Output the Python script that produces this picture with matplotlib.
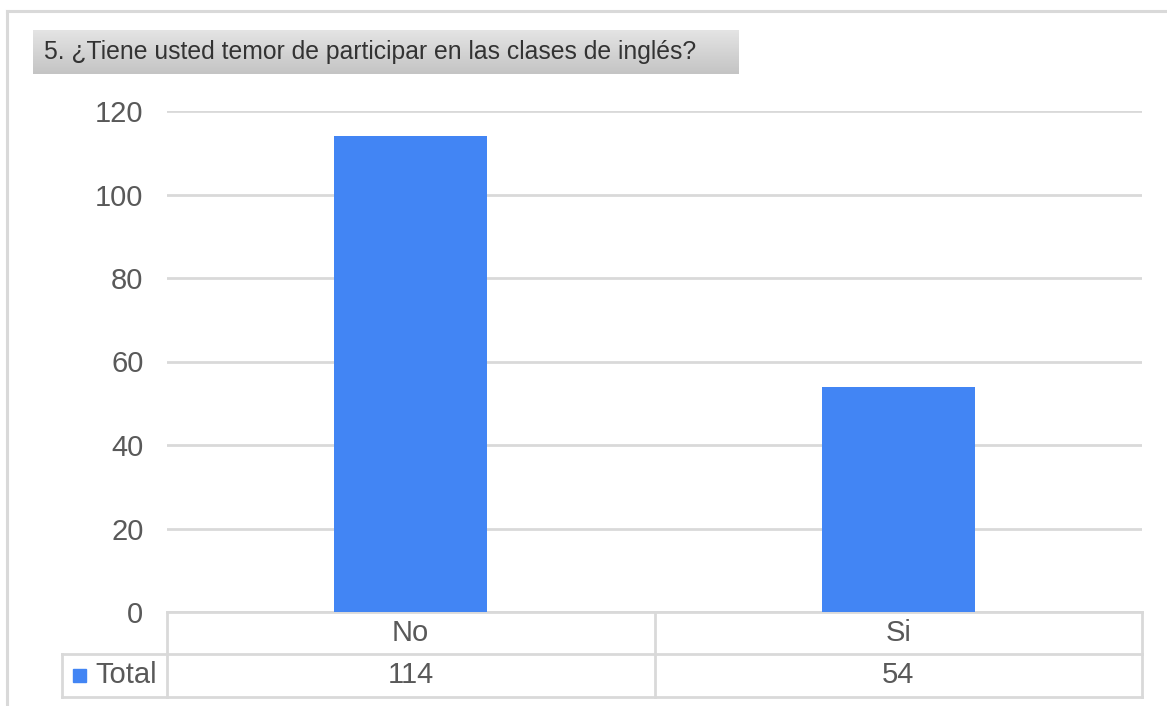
import matplotlib.pyplot as plt
import matplotlib.transforms as mtransforms
import numpy as np

# data
categories = ["No", "Si"]
totals = [114, 54]
series_name = "Total"
title = "5. ¿Tiene usted temor de participar en las clases de inglés?"
y_ticks = [0, 20, 40, 60, 80, 100, 120]

W, H = 1167, 706
bar_color = "#4285F4"
line_color = "#d9d9d9"
text_color = "#595959"

plt.rcParams['font.family'] = ['Liberation Sans', 'DejaVu Sans']


def fx(x):
    return x / W


def fy(y):
    return 1 - y / H


fig = plt.figure(figsize=(W / 100, H / 100), dpi=100)

# outer frame (top and left edge only visible)
fig.add_artist(plt.Line2D([fx(7), 1], [fy(10.5), fy(10.5)], color=line_color, lw=2.2))
fig.add_artist(plt.Line2D([fx(7), fx(7)], [fy(10.5), 0], color=line_color, lw=2.2))

# title box with a soft grey gradient
tax = fig.add_axes([fx(33), fy(74), fx(739) - fx(33), fy(30) - fy(74)])
grad = np.linspace(0, 1, 100).reshape(-1, 1)
tax.imshow(grad, aspect='auto', cmap=plt.matplotlib.colors.LinearSegmentedColormap.from_list(
    'g', ['#e4e4e4', '#c4c4c4']), extent=[0, 1, 0, 1], origin='upper')
tax.set_xlim(0, 1)
tax.set_ylim(0, 1)
tax.axis('off')
tax.text(0.015, 0.5, title, fontsize=17.8, color='#333333', va='center', ha='left')

# main plot
ax = fig.add_axes([fx(167), fy(612), fx(1142) - fx(167), fy(111) - fy(612)])
x = np.arange(len(categories))
ax.bar(x, totals, width=0.314, color=bar_color, zorder=3)
ax.set_xlim(-0.5, len(categories) - 0.5)
ax.set_ylim(0, 120)
ax.set_yticks(y_ticks)
ax.set_yticklabels([str(t) for t in y_ticks], fontsize=21, color=text_color)
ax.tick_params(axis='y', length=0, pad=17)
ax.set_xticks([])
ax.yaxis.grid(True, color=line_color, lw=2)
ax.set_axisbelow(True)
for s in ax.spines.values():
    s.set_visible(False)

# data table below the plot
tr = mtransforms.blended_transform_factory(ax.transData, fig.transFigure)
y_top, y_mid, y_bot = fy(612), fy(653.5), fy(697)
lw = 2
edges = np.arange(len(categories) + 1) - 0.5
ax.plot([edges[0], edges[-1]], [y_top, y_top], transform=tr, color=line_color, lw=lw, clip_on=False)
ax.plot([edges[0], edges[-1]], [y_mid, y_mid], transform=tr, color=line_color, lw=lw, clip_on=False)
ax.plot([edges[0], edges[-1]], [y_bot, y_bot], transform=tr, color=line_color, lw=lw, clip_on=False)
for e in edges:
    ax.plot([e, e], [y_top, y_bot], transform=tr, color=line_color, lw=lw, clip_on=False)
for xi, cat, val in zip(x, categories, totals):
    ax.text(xi, (y_top + y_mid) / 2, cat, transform=tr, ha='center', va='center',
            fontsize=21, color=text_color)
    ax.text(xi, (y_mid + y_bot) / 2, str(val), transform=tr, ha='center', va='center',
            fontsize=21, color=text_color)

# row label cell with legend key
fig.add_artist(plt.Line2D([fx(62), fx(167)], [y_mid, y_mid], color=line_color, lw=lw))
fig.add_artist(plt.Line2D([fx(62), fx(167)], [y_bot, y_bot], color=line_color, lw=lw))
fig.add_artist(plt.Line2D([fx(62), fx(62)], [y_mid, y_bot], color=line_color, lw=lw))
fig.add_artist(plt.Rectangle((fx(73), fy(682)), fx(13), fy(0) - fy(13), color=bar_color))
fig.text(fx(95), (y_mid + y_bot) / 2, series_name, ha='left', va='center',
         fontsize=21, color=text_color)

fig.savefig("out.png", dpi=100)
